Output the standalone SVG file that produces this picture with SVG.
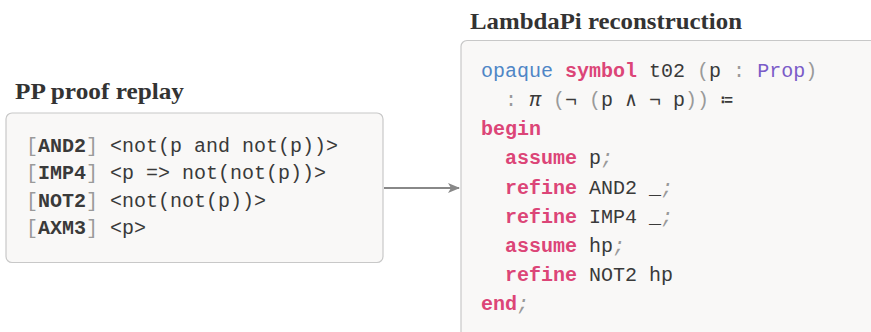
<svg xmlns="http://www.w3.org/2000/svg" width="871" height="332" viewBox="0 0 871 332">
<defs>
<style>
.title{font-family:"Liberation Serif",serif;font-weight:bold;font-size:23px;fill:#333}
.box{fill:#f9f8f7;stroke:#c8c8c8;stroke-width:1.2}
.code{font-family:"Liberation Mono","DejaVu Sans Mono",monospace;font-size:20px;fill:#3a3a3a}
.g{fill:#9a9a9a}
.b{font-weight:bold}
.k{fill:#dc4577;font-weight:bold}
.bl{fill:#4f86c6}
.pu{fill:#7b5cc8}
.it{font-style:italic}
.conn{stroke:#888;stroke-width:2;fill:none}
</style>
<marker id="ah" markerWidth="12" markerHeight="10" refX="11" refY="5" orient="auto" markerUnits="userSpaceOnUse">
<path d="M0,0 L12,5 L0,10 L3,5 Z" fill="#888"/>
</marker>
</defs>
<rect width="871" height="332" fill="#fff"/>
<g id="pp-replay">
<text class="title" x="15" y="99" textLength="169" lengthAdjust="spacingAndGlyphs">PP proof replay</text>
<rect class="box" x="6" y="113" width="377" height="149.5" rx="6"/>
<text class="code" xml:space="preserve" x="26" y="151.5"><tspan class="g">[</tspan><tspan class="b">AND2</tspan><tspan class="g">]</tspan> &lt;not(p and not(p))&gt;</text>
<text class="code" xml:space="preserve" x="26" y="179"><tspan class="g">[</tspan><tspan class="b">IMP4</tspan><tspan class="g">]</tspan> &lt;p =&gt; not(not(p))&gt;</text>
<text class="code" xml:space="preserve" x="26" y="206.5"><tspan class="g">[</tspan><tspan class="b">NOT2</tspan><tspan class="g">]</tspan> &lt;not(not(p))&gt;</text>
<text class="code" xml:space="preserve" x="26" y="234"><tspan class="g">[</tspan><tspan class="b">AXM3</tspan><tspan class="g">]</tspan> &lt;p&gt;</text>
</g>
<g id="lambdapi">
<text class="title" x="470" y="29" textLength="272" lengthAdjust="spacingAndGlyphs">LambdaPi reconstruction</text>
<rect class="box" x="461" y="40.5" width="460" height="330" rx="6"/>
<text class="code" xml:space="preserve" x="481" y="77"><tspan class="bl">opaque</tspan> <tspan class="k">symbol</tspan> t02 <tspan class="g">(</tspan>p <tspan class="g">:</tspan> <tspan class="pu">Prop</tspan><tspan class="g">)</tspan></text>
<text class="code" y="106"><tspan class="g" x="505">:</tspan><tspan class="it" x="529">π</tspan><tspan class="g" x="553">(</tspan><tspan x="565">¬</tspan><tspan class="g" x="589">(</tspan><tspan x="601">p</tspan><tspan x="625">∧</tspan><tspan x="649">¬</tspan><tspan x="673">p</tspan><tspan class="g" x="685">)</tspan><tspan class="g" x="697">)</tspan><tspan x="721">≔</tspan></text>
<text class="code" xml:space="preserve" x="481" y="135"><tspan class="k">begin</tspan></text>
<text class="code" xml:space="preserve" x="505" y="164"><tspan class="k">assume</tspan> p<tspan class="g it">;</tspan></text>
<text class="code" xml:space="preserve" x="505" y="193.5"><tspan class="k">refine</tspan> AND2 _<tspan class="g it">;</tspan></text>
<text class="code" xml:space="preserve" x="505" y="222.5"><tspan class="k">refine</tspan> IMP4 _<tspan class="g it">;</tspan></text>
<text class="code" xml:space="preserve" x="505" y="251.5"><tspan class="k">assume</tspan> hp<tspan class="g it">;</tspan></text>
<text class="code" xml:space="preserve" x="505" y="280.5"><tspan class="k">refine</tspan> NOT2 hp</text>
<text class="code" xml:space="preserve" x="481" y="309.5"><tspan class="k">end</tspan><tspan class="g it">;</tspan></text>
</g>
<g id="connectors">
<line class="conn" x1="384" y1="188" x2="459" y2="188" marker-end="url(#ah)"/>
</g>
</svg>
